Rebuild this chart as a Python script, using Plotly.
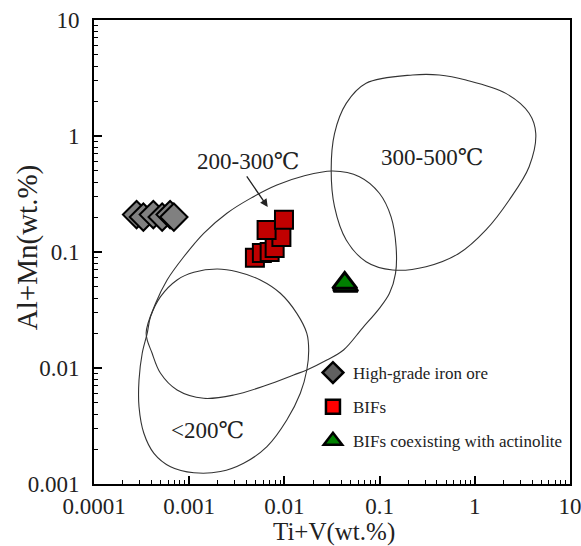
import plotly.graph_objects as go

# ---- data ----
ore_x = [0.00028, 0.00033, 0.00042, 0.00052, 0.00063, 0.00069]
ore_y = [0.21, 0.20, 0.21, 0.20, 0.21, 0.20]

bif_x = [0.0049, 0.0058, 0.0070, 0.0079, 0.0093, 0.0065, 0.0099]
bif_y = [0.089, 0.098, 0.100, 0.108, 0.135, 0.155, 0.190]

act_x = [0.044, 0.043]
act_y = [0.051, 0.054]

# field boundaries (Ti+V, Al+Mn), closed loops
f200_x = [0.00196, 0.00318, 0.00558, 0.00906, 0.0135, 0.0172, 0.0180, 0.0172, 0.0147, 0.0106,
          0.00656, 0.00373, 0.00213, 0.00112, 0.000637, 0.000426, 0.000334, 0.000297, 0.000297,
          0.000321, 0.000362, 0.000393, 0.000500, 0.000746, 0.00112, 0.00196]
f200_y = [0.0713, 0.0676, 0.0574, 0.0441, 0.0296, 0.0199, 0.0143, 0.00961, 0.00605, 0.00356,
          0.00210, 0.00151, 0.00128, 0.00125, 0.00141, 0.00184, 0.00274, 0.00464, 0.00788,
          0.0134, 0.0199, 0.0277, 0.0412, 0.0574, 0.0668, 0.0713]

f300_x = [0.000353, 0.000444, 0.000586, 0.000877, 0.00142, 0.00249, 0.00440, 0.00834, 0.0159,
          0.0322, 0.0614, 0.0995, 0.132, 0.149, 0.147, 0.127, 0.0995, 0.0661, 0.0418, 0.0279,
          0.0172, 0.0125, 0.00656, 0.00294, 0.00142, 0.000746, 0.000500, 0.000408, 0.000353]
f300_y = [0.0200, 0.0361, 0.0574, 0.0910, 0.145, 0.216, 0.290, 0.378, 0.452,
          0.499, 0.446, 0.321, 0.201, 0.111, 0.0655, 0.0441, 0.0327, 0.0221, 0.0143, 0.0117,
          0.00961, 0.00871, 0.00713, 0.00585, 0.00548, 0.00646, 0.00900, 0.0134, 0.0200]

f500_x = [0.222, 0.424, 0.807, 2.12, 3.72, 4.37, 3.72, 2.30, 1.31, 0.685, 0.307, 0.137,
          0.0721, 0.0446, 0.0336, 0.0310, 0.0336, 0.0446, 0.0721, 0.222]
f500_y = [3.36, 3.36, 3.04, 2.33, 1.57, 1.05, 0.543, 0.281, 0.155, 0.0975, 0.0747, 0.0700,
          0.0825, 0.127, 0.246, 0.509, 1.05, 1.91, 2.85, 3.36]

x_ticks = [0.0001, 0.001, 0.01, 0.1, 1, 10]
x_ticktext = ["0.0001", "0.001", "0.01", "0.1", "1", "10"]
y_ticks = [0.001, 0.01, 0.1, 1, 10]
y_ticktext = ["0.001", "0.01", "0.1", "1", "10"]

FONT = "Liberation Serif, DejaVu Serif, serif"
TXT = "#222222"

fig = go.Figure()

for fx, fy in [(f200_x, f200_y), (f300_x, f300_y), (f500_x, f500_y)]:
    fig.add_trace(go.Scatter(x=fx, y=fy, mode="lines",
                             line=dict(color="#333333", width=1.1, shape="spline", smoothing=1.0),
                             showlegend=False, hoverinfo="skip"))

fig.add_trace(go.Scatter(x=ore_x, y=ore_y, mode="markers", showlegend=False,
                         marker=dict(symbol="diamond", size=21, color="#808080", line=dict(color="black", width=2))))
fig.add_trace(go.Scatter(x=bif_x, y=bif_y, mode="markers", showlegend=False,
                         marker=dict(symbol="square", size=18, color="#c00000", line=dict(color="black", width=2))))
fig.add_trace(go.Scatter(x=act_x, y=act_y, mode="markers", showlegend=False,
                         marker=dict(symbol="triangle-up", size=21, color="#008000", line=dict(color="black", width=3))))

# legend entries
fig.add_trace(go.Scatter(x=[None], y=[None], mode="markers", name="High-grade iron ore", legendgroup="a",
                         marker=dict(symbol="diamond", size=16, color="#606060", line=dict(color="black", width=2.5))))
fig.add_trace(go.Scatter(x=[None], y=[None], mode="markers", name="BIFs", legendgroup="b",
                         marker=dict(symbol="square", size=14, color="#ff0000", line=dict(color="black", width=2.5))))
fig.add_trace(go.Scatter(x=[None], y=[None], mode="markers", name="BIFs coexisting with actinolite", legendgroup="c",
                         marker=dict(symbol="triangle-up", size=16, color="#008000", line=dict(color="black", width=2.5))))

def label(x, y, text, size, angle=0):
    fig.add_annotation(xref="paper", yref="paper", x=x, y=y, text=text, showarrow=False,
                       xanchor="center", yanchor="middle", textangle=angle,
                       font=dict(size=size, color=TXT))

label(0.323, 0.694, "200-300℃", 23)
label(0.711, 0.703, "300-500℃", 23)
label(0.239, 0.116, "<200℃", 23)
fig.add_annotation(xref="paper", yref="paper", x=0.365, y=0.597, text="", showarrow=True,
                   axref="pixel", ayref="pixel", ax=-22, ay=-32, arrowhead=2, arrowsize=1.2,
                   arrowwidth=1.3, arrowcolor=TXT)

# axis titles
label(0.505, -0.103, "Ti+V(wt.%)", 25)
label(-0.138, 0.509, "Al+Mn(wt.%)", 29, angle=-90)

axis_common = dict(type="log", showgrid=False, zeroline=False, showline=True, linecolor="black",
                   linewidth=2, mirror=True, ticks="inside", ticklen=8, tickwidth=1.5, tickcolor="black",
                   tickfont=dict(size=23, color=TXT), automargin=False, ticklabeloverflow="allow",
                   minor=dict(ticks="inside", ticklen=4, tickwidth=1, tickcolor="black", dtick="D1", showgrid=False))

fig.update_xaxes(**axis_common, range=[-4, 1], tickmode="array", tickvals=x_ticks, ticktext=x_ticktext,
                 ticklabelstandoff=0)
fig.update_yaxes(**axis_common, range=[-3, 1], tickmode="array", tickvals=y_ticks, ticktext=y_ticktext,
                 ticklabelstandoff=8)

fig.update_layout(
    width=581, height=546,
    margin=dict(l=94, r=11, t=20, b=62),
    paper_bgcolor="white", plot_bgcolor="white",
    font=dict(family=FONT, color=TXT),
    showlegend=True,
    legend=dict(x=0.46, y=0.278, xanchor="left", yanchor="top", bgcolor="rgba(0,0,0,0)",
                font=dict(size=17, color=TXT), traceorder="grouped", tracegroupgap=9,
                itemsizing="trace"),
)

fig.write_html("out.html", config={"displayModeBar": False},
               post_script="document.body.style.margin='0';document.body.style.overflow='hidden';")
